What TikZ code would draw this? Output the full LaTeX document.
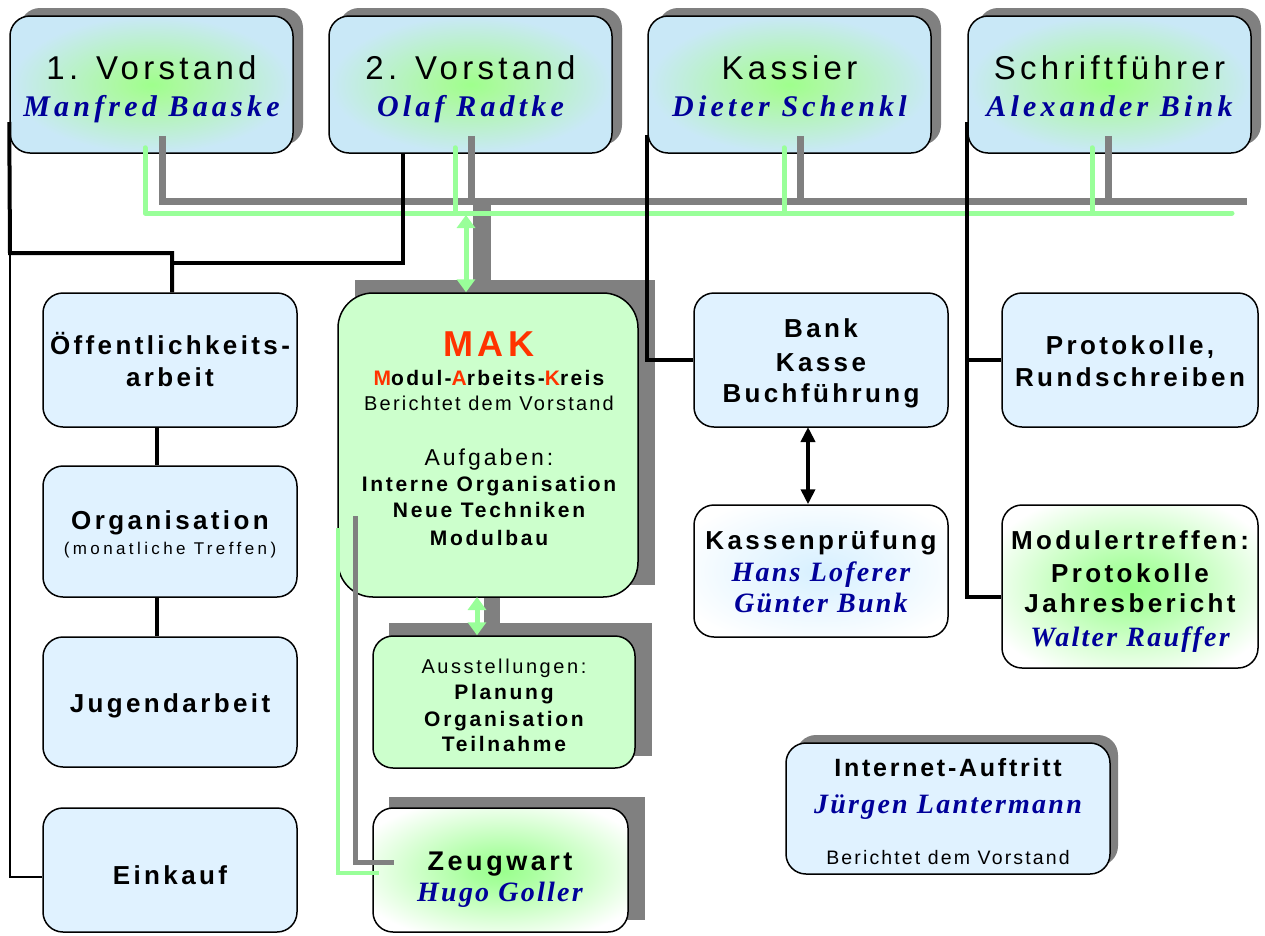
\documentclass[tikz,border=0pt]{standalone}
\usepackage{fontspec}
\setmainfont{Liberation Sans}
\newfontfamily\titlef[LetterSpace=13]{Liberation Sans}
\newfontfamily\lblf[LetterSpace=13]{Liberation Sans}
\newfontfamily\regf[LetterSpace=11]{Liberation Sans}
\newfontfamily\widef[LetterSpace=20]{Liberation Sans}
\newfontfamily\namef[LetterSpace=14]{Liberation Serif}
\newfontfamily\namesf[LetterSpace=8]{Liberation Serif}
\usetikzlibrary{backgrounds,shadows,arrows.meta,calc}
\definecolor{paleblue}{HTML}{E0F2FF}
\definecolor{mintgreen}{HTML}{CCFFCC}
\definecolor{navy}{HTML}{000099}
\definecolor{makred}{HTML}{FF3300}
\definecolor{shgray}{HTML}{808080}
\definecolor{lgreen}{HTML}{99FF99}
\pgfdeclareradialshading{glowtop}{\pgfpoint{0bp}{0bp}}{rgb(0bp)=(0.62,1,0.55); rgb(5bp)=(0.67,0.98,0.62); rgb(25bp)=(0.79,0.91,0.97); rgb(50bp)=(0.79,0.91,0.97)}
\pgfdeclareradialshading{glowwhite}{\pgfpoint{0bp}{0bp}}{rgb(0bp)=(0.6,1,0.55); rgb(6bp)=(0.66,1,0.62); rgb(30bp)=(1,1,1); rgb(50bp)=(1,1,1)}
\pgfdeclareradialshading{glowblue}{\pgfpoint{0bp}{0bp}}{rgb(0bp)=(0.84,0.94,1); rgb(30bp)=(1,1,1); rgb(50bp)=(1,1,1)}
\newcommand{\fTitle}{\titlef\fontsize{33}{36}\selectfont}
\newcommand{\fName}{\namef\bfseries\itshape\fontsize{30}{33}\selectfont}
\newcommand{\fNameS}{\namesf\bfseries\itshape\fontsize{28}{31}\selectfont}
\newcommand{\fLbl}{\lblf\bfseries\fontsize{26}{29}\selectfont}
\newcommand{\fLblS}{\lblf\bfseries\fontsize{21}{24}\selectfont}
\begin{document}
\begin{tikzpicture}[x=1pt,y=-1pt,
  box/.style={draw=black, line width=1.5pt, rounded corners=20pt, inner sep=0pt},
  topbox/.style={box, minimum width=283pt, minimum height=137pt, shading=glowtop,
     general shadow={fill=shgray, shadow xshift=10pt, shadow yshift=8pt}},
  bluebox/.style={box, fill=paleblue, minimum width=254pt},
  greenbox/.style={box, fill=mintgreen},
  ttl/.style={anchor=base, font=\fTitle},
  nm/.style={anchor=base, font=\fName, text=navy},
  nms/.style={anchor=base, font=\fNameS, text=navy},
  lbl/.style={anchor=base, font=\fLbl},
  lbls/.style={anchor=base, font=\fLblS},
  reg/.style={anchor=base, font={\regf\fontsize{#1}{#1}\selectfont}},
  thickline/.style={draw=black, line width=4pt},
  thinline/.style={draw=black, line width=1.5pt},
  gbus/.style={draw=shgray, line width=7pt},
  grbus/.style={draw=lgreen, line width=5pt, line cap=round, line join=round},
  garrow/.style={draw=lgreen, line width=5pt, {Triangle[width=18pt,length=13pt]}-{Triangle[width=18pt,length=13pt]}},
  barrow/.style={draw=black, line width=4pt, {Triangle[width=14pt,length=15pt]}-{Triangle[width=14pt,length=15pt]}}
]
\useasboundingbox (0,0) rectangle (1265,935);

% ---------- shadows (square ones) ----------
\fill[shgray] (355,280) rectangle (655,585);
\fill[shgray] (389,623) rectangle (652,756);
\fill[shgray] (389,797) rectangle (645,920);
\fill[shgray, rounded corners=20pt] (796,735) rectangle (1118,866);

% ---------- top boxes ----------
\node[topbox] (v1) at (151.5,84.5) {};
\node[topbox] (v2) at (470.5,84.5) {};
\node[topbox] (kas) at (789.5,84.5) {};
\node[topbox] (sch) at (1109.5,84.5) {};

% ---------- left column ----------
\node[bluebox, minimum height=134pt] (oef) at (170,360) {};
\node[bluebox, minimum height=131pt] (org) at (170,531.5) {};
\node[bluebox, minimum height=130pt] (jug) at (170,702) {};
\node[bluebox, minimum height=124pt] (ein) at (170,870) {};

% ---------- middle ----------
\node[greenbox, rounded corners=35pt, minimum width=300pt, minimum height=304pt] (mak) at (488,445) {};
\node[greenbox, minimum width=262pt, minimum height=132pt] (aus) at (504,702) {};
\node[box, shading=glowwhite, minimum width=255pt, minimum height=124pt] (zeug) at (500.5,870) {};

% ---------- right ----------
\node[bluebox, minimum height=134pt] (bank) at (821,360) {};
\node[bluebox, minimum width=256pt, minimum height=134pt] (prot) at (1130,360) {};
\node[box, shading=glowblue, minimum width=254pt, minimum height=132pt] (kp) at (821,571) {};
\node[box, shading=glowwhite, minimum width=256pt, minimum height=163pt] (mod) at (1130,586.5) {};
\node[box, fill=paleblue, minimum width=324pt, minimum height=131pt] (inet) at (948,808.5) {};

% ---------- thick gray connectors under the boxes ----------
\coordinate (ge) at (1247,201);
\coordinate (mg) at (482,201);
\coordinate (ma) at (492,597);
\begin{scope}[on background layer]
  \draw[draw=shgray, line width=18pt] (mg) -- (mg |- mak.north);
  \draw[draw=shgray, line width=16pt] (ma) -- (ma |- aus.north);
\end{scope}

% ---------- bus lines ----------
\coordinate (g1) at ($(v1.south)+(10.5,-18)$);
\coordinate (g2) at ($(v2.south)+(0.5,-18)$);
\coordinate (g3) at ($(kas.south)+(10.5,-18)$);
\coordinate (g4) at ($(sch.south)+(-1.5,-18)$);
\draw[gbus] (g1) |- (ge);
\draw[gbus] (g2) -- (g2 |- ge);
\draw[gbus] (g3) -- (g3 |- ge);
\draw[gbus] (g4) -- (g4 |- ge);

\coordinate (gre) at (1232,213);
\coordinate (r1) at ($(v1.south)+(-6.5,-6)$);
\coordinate (r2) at ($(v2.south)+(-15.5,-6)$);
\coordinate (r3) at ($(kas.south)+(-5.5,-6)$);
\coordinate (r4) at ($(sch.south)+(-17.5,-6)$);
\draw[grbus] (r1) |- (gre);
\draw[grbus] (r2) -- (r2 |- gre);
\draw[grbus] (r3) -- (r3 |- gre);
\draw[grbus] (r4) -- (r4 |- gre);

% ---------- green arrows ----------
\coordinate (ga) at (466,215);
\draw[garrow] (ga) -- (ga |- mak.north);
\coordinate (gb) at (477,597);
\draw[garrow] (gb) -- (gb |- aus.north);

% ---------- MAK to Zeugwart ----------
\draw[draw=shgray, line width=5pt] ($(mak.west)+(18,71)$) |- ($(zeug.west)+(22,-8)$);
\draw[draw=lgreen, line width=4pt] ($(mak.west)+(1,83)$) |- ($(zeug.west)+(7,3)$);

% ---------- black connectors ----------
\coordinate (j1) at (10,253);
\coordinate (j2) at (172,253);
\draw[thickline] ($(v1.west)+(0,37.5)$) -- (j1) -- (j2) -- (j2 |- oef.north);
\draw[thickline] ($(v2.south)+(-67.5,0)$) |- (j2 |- 0,263);
\draw[thinline] (j1) |- ($(ein.west)+(0,7)$);
\draw[thickline] ($(oef.south)+(-13,0)$) -- ($(org.north)+(-13,0)$);
\draw[thickline] ($(org.south)+(-13,0)$) -- ($(jug.north)+(-13,0)$);
\draw[thickline] ($(kas.west)+(0,50.5)$) |- (bank.west);
\coordinate (s1) at ($(sch.west)+(0,37.5)$);
\draw[thickline] (s1) |- ($(mod.west)+(0,10.5)$);
\draw[thickline] (s1 |- prot.west) -- (prot.west);
\coordinate (ba) at (808,427);
\draw[barrow] (ba) -- (ba |- kp.north);

% ---------- texts ----------
\node[ttl] (v1t) at (151.5,79) {1. Vorstand};
\node[nm] (v1n) at (151.5,116) {Manfred Baaske};
\node[ttl] (v2t) at (470.5,79) {2. Vorstand};
\node[nm] (v2n) at (470.5,116) {Olaf Radtke};
\node[ttl] (kast) at (789.5,79) {Kassier};
\node[nm] (kasn) at (789.5,116) {Dieter Schenkl};
\node[ttl] (scht) at (1109.5,79) {Schriftführer};
\node[nm] (schn) at (1109.5,116) {Alexander Bink};

\node[lbl] (oef1) at (170,354) {Öffentlichkeits-};
\node[lbl] (oef2) at (170,386) {arbeit};
\node[lbl] (org1) at (170,529) {Organisation};
\node[anchor=base, font={\widef\fontsize{17}{19}\selectfont}] (org2) at (170,554) {(monatliche Treffen)};
\node[lbl] (jug1) at (170,712) {Jugendarbeit};
\node[lbl] (ein1) at (170,884) {Einkauf};

\node[anchor=base, text=makred, font={\lblf\bfseries\fontsize{36}{38}\selectfont}] (mak1) at (489,356) {MAK};
\node[anchor=base, font={\regf\bfseries\fontsize{21}{23}\selectfont}] (mak2) at (489,385) {\textcolor{makred}{M}odul-\textcolor{makred}{A}rbeits-\textcolor{makred}{K}reis};
\node[reg=20] (mak3) at (489,410) {Berichtet dem Vorstand};
\node[anchor=base, font={\lblf\fontsize{23}{25}\selectfont}] (mak4) at (489,465) {Aufgaben:};
\node[lbls] (mak5) at (489,491) {Interne Organisation};
\node[lbls] (mak6) at (489,517) {Neue Techniken};
\node[lbls] (mak7) at (489,545) {Modulbau};

\node[anchor=base, font={\lblf\fontsize{20}{22}\selectfont}] (aus1) at (504,673) {Ausstellungen:};
\node[lbls] (aus2) at (504,699) {Planung};
\node[lbls] (aus3) at (504,726) {Organisation};
\node[lbls] (aus4) at (504,751) {Teilnahme};

\node[anchor=base, font={\lblf\bfseries\fontsize{27}{30}\selectfont}] (zeug1) at (500,870) {Zeugwart};
\node[nms] (zeug2) at (500,901) {Hugo Goller};

\node[lbl] (bank1) at (821,337) {Bank};
\node[lbl] (bank2) at (821,371) {Kasse};
\node[lbl] (bank3) at (821,402) {Buchführung};
\node[lbl] (prot1) at (1130,354) {Protokolle,};
\node[lbl] (prot2) at (1130,386) {Rundschreiben};
\node[lbl] (kp1) at (821,549) {Kassenprüfung};
\node[nms] (kp2) at (821,581) {Hans Loferer};
\node[nms] (kp3) at (821,612) {Günter Bunk};
\node[lbl] (mod1) at (1130,549) {Modulertreffen:};
\node[lbl] (mod2) at (1130,582) {Protokolle};
\node[lbl] (mod3) at (1130,612) {Jahresbericht};
\node[nms] (mod4) at (1130,646) {Walter Rauffer};
\node[anchor=base, font={\regf\bfseries\fontsize{25}{28}\selectfont}] (inet1) at (948,776) {Internet-Auftritt};
\node[nms] (inet2) at (948,813) {Jürgen Lantermann};
\node[reg=19.5] (inet3) at (948,864) {Berichtet dem Vorstand};
\end{tikzpicture}
\end{document}
